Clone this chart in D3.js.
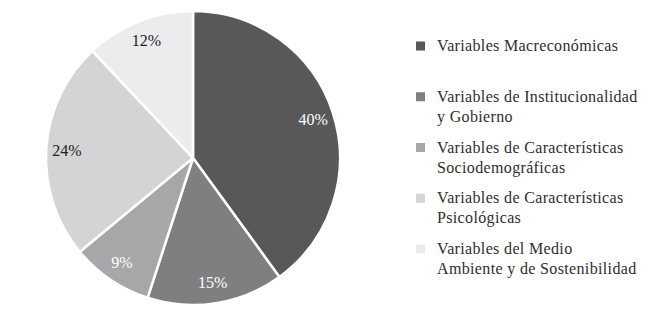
<!DOCTYPE html>
<html>
<head>
  <meta charset="UTF-8" />
  <title>Variables</title>
  <style>
    body { margin: 0; background: #fff; }
    svg { display: block; }
  </style>
</head>
<body>
  <svg id="chart"></svg>
  <script src="https://d3js.org/d3.v7.min.js"></script>
  <script>
    const categories = [
      ["Variables Macreconómicas"],
      ["Variables de Institucionalidad", "y Gobierno"],
      ["Variables de Características", "Sociodemográficas"],
      ["Variables de Características", "Psicológicas"],
      ["Variables del Medio", "Ambiente y de Sostenibilidad"]
    ];
    const values = [40, 15, 9, 24, 12];
    const colors = ["#58585a", "#7f7f81", "#a7a7a9", "#d4d4d6", "#ececee"];
    const labelColors = ["#fff", "#fff", "#fff", "#222", "#222"];

    const width = 650, height = 319;
    const cx = 193, cy = 158, radius = 147;
    const serif = "Liberation Serif";

    const svg = d3.select("#chart")
      .attr("width", width)
      .attr("height", height);

    const pie = d3.pie().sort(null).value(d => d);
    const arcs = pie(values);
    const arc = d3.arc().innerRadius(0).outerRadius(radius);
    const labelArc = d3.arc().innerRadius(radius * 0.86).outerRadius(radius * 0.86);

    const g = svg.append("g").attr("transform", `translate(${cx},${cy})`);

    g.selectAll("path")
      .data(arcs)
      .join("path")
      .attr("d", arc)
      .attr("fill", (d, i) => colors[i])
      .attr("stroke", "#fff")
      .attr("stroke-width", 2.5)
      .attr("stroke-linejoin", "round");

    g.selectAll("text")
      .data(arcs)
      .join("text")
      .attr("transform", d => `translate(${labelArc.centroid(d)})`)
      .attr("text-anchor", "middle")
      .attr("dy", "0.35em")
      .attr("font-family", serif)
      .attr("font-size", 16)
      .attr("fill", (d, i) => labelColors[i])
      .text(d => d.data + "%");

    // legend
    const legendY = d3.scalePoint().domain(d3.range(categories.length)).range([46, 249]);
    const legend = svg.append("g");

    const item = legend.selectAll("g")
      .data(categories)
      .join("g")
      .attr("transform", (d, i) => `translate(0,${legendY(i)})`);

    item.append("rect")
      .attr("x", 416)
      .attr("y", -4.5)
      .attr("width", 9)
      .attr("height", 9)
      .attr("fill", (d, i) => colors[i]);

    item.each(function(lines) {
      const t = d3.select(this).append("text")
        .attr("x", 437)
        .attr("y", 5)
        .attr("font-family", serif)
        .attr("font-size", 16)
        .attr("letter-spacing", 0.35)
        .attr("fill", "#2e2e2e");
      lines.forEach((line, j) => {
        t.append("tspan").attr("x", 437).attr("dy", j === 0 ? 0 : 20).text(line);
      });
    });
  </script>
</body>
</html>
